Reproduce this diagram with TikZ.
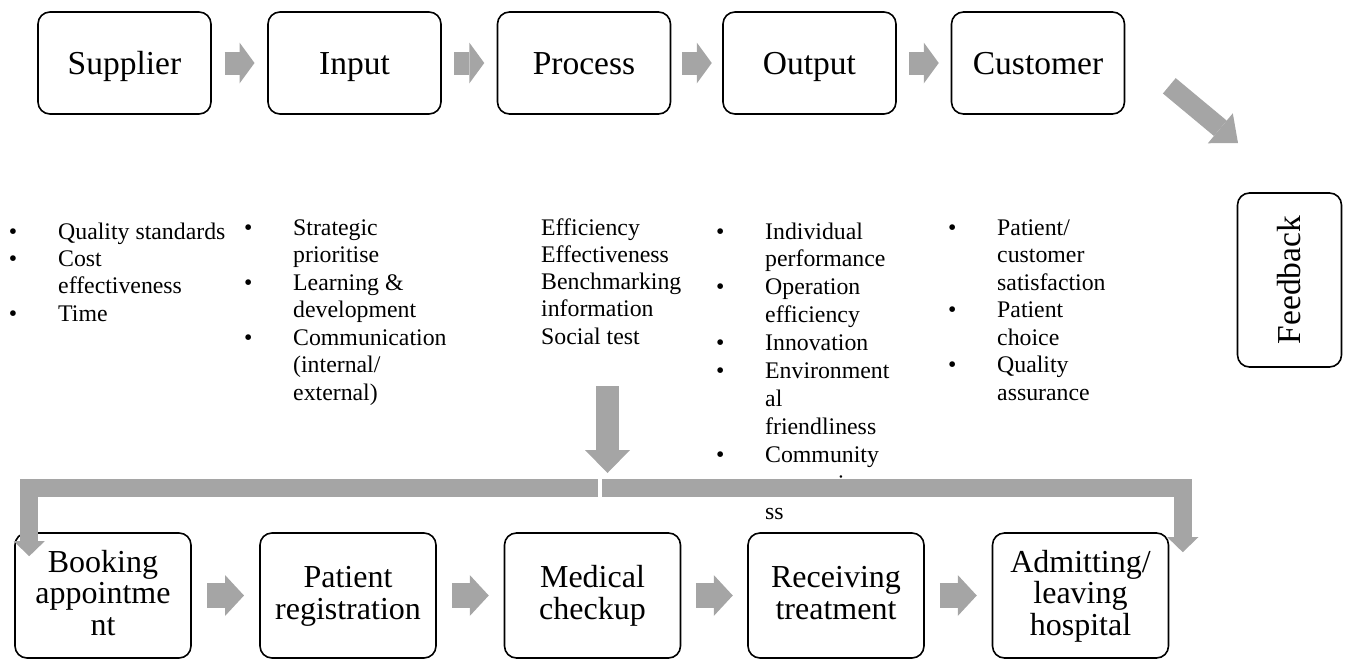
\documentclass[tikz,border=0pt]{standalone}
\usepackage{fontspec}
\setmainfont{Liberation Serif}
\usetikzlibrary{arrows.meta,calc}
\definecolor{agray}{RGB}{165,165,165}
\newcommand\bul{\hbox to 49.2pt{\textbullet\hfil}}
\newcommand\nob{\hbox to 49.2pt{\hfil}}
\newcommand\li[1]{\hbox{#1}}
\newcommand\blist[2]{\vtop{\lineskiplimit=-100pt\baselineskip=#1pt #2}}
\newcommand\btop{\rule{0pt}{24pt}}
\newcommand\bbot{\rule[-8pt]{0pt}{8pt}}
\tikzset{
  topbox/.style={draw, line width=1.6pt, rounded corners=12pt, minimum width=173pt,
    minimum height=102pt, inner sep=0pt, text height=22pt, text depth=0pt,
    font=\fontsize{33.5}{36}\selectfont},
  botbox/.style={draw, line width=1.6pt, rounded corners=12pt, minimum width=176pt,
    minimum height=125pt, inner sep=0pt, align=center,
    font=\fontsize{32}{31.5}\selectfont},
  listtext/.style={inner sep=0pt, anchor=base west, font=\fontsize{23.8}{27.5}\selectfont},
  toparrow/.style={draw=agray, line width=23pt, -{Triangle[width=41pt,length=15pt,line width=0pt]}},
  botarrow/.style={draw=agray, line width=25pt, -{Triangle[width=41pt,length=19pt,line width=0pt]}},
  diagarrow/.style={draw=agray, line width=20pt, -{Triangle[width=39pt,length=23pt,line width=0pt]}},
  downarrow/.style={draw=agray, line width=23pt, -{Triangle[width=45pt,length=23pt,line width=0pt]}},
  bentarrow/.style={draw=agray, line width=18pt, line join=miter, -{Triangle[width=31pt,length=15pt,line width=0pt]}},
}
\begin{document}
\begin{tikzpicture}[x=1pt, y=-1pt]
\useasboundingbox (0,0) rectangle (1354,659);
% top row
\node[topbox] (sup) at (124.5,63) {Supplier};
\node[topbox] (inp) at (354.5,63) {Input};
\node[topbox] (pro) at (584,63) {Process};
\node[topbox] (out) at (809.5,63) {Output};
\node[topbox] (cus) at (1038,63) {Customer};
\node[draw, line width=1.6pt, rounded corners=12pt, minimum width=174pt, minimum height=104pt,
  inner sep=0pt, rotate=90, text height=22pt, text depth=0pt,
  font=\fontsize{33.5}{36}\selectfont] (fb) at (1289.5,280) {Feedback};
\foreach \a/\b in {sup/inp, inp/pro, pro/out, out/cus}
  \draw[toparrow] ($(\a.east)!0.5!(\b.west)+(-15,0)$) -- ($(\a.east)!0.5!(\b.west)+(15,0)$);
\draw[diagarrow] ($(cus.south east)+(44,-29)$) -- ($(fb.center)+(-51.5,-137)$);
% lists
\node[listtext] (c1) at (8.8,239) {\blist{27.4}{\li{\bul Quality standards}\li{\bul Cost}\li{\nob effectiveness}\li{\bul Time}}};
\node[listtext] (c2) at (243.8,235) {\blist{27.5}{\li{\bul Strategic}\li{\nob prioritise}\li{\bul Learning \&}\li{\nob development}\li{\bul Communication}\li{\nob (internal/}\li{\nob external)}}};
\node[listtext] (c3) at (541,235) {\blist{27.3}{\li{Efficiency}\li{Effectiveness}\li{Benchmarking}\li{information}\li{Social test}}};
\node[listtext] (c4) at (715.8,239) {\blist{27.9}{\li{\bul Individual}\li{\nob performance}\li{\bul Operation}\li{\nob efficiency}\li{\bul Innovation}\li{\bul Environment}\li{\nob al}\li{\nob friendliness}\li{\bul Community}\kern1.5pt\li{\nob responsivene}\li{\nob ss}}};
\node[listtext] (c5) at (947.8,235) {\blist{27.5}{\li{\bul Patient/}\li{\nob customer}\li{\nob satisfaction}\li{\bul Patient}\li{\nob choice}\li{\bul Quality}\li{\nob assurance}}};
% bottom row
\node[botbox] (book) at (103,595.5) {\btop Booking\\appointme\\nt\bbot};
\node[botbox] (pat) at (348,595.5) {\btop Patient\\registration\bbot};
\node[botbox] (med) at (592.5,595.5) {\btop Medical\\checkup\bbot};
\node[botbox] (rec) at (836,595.5) {\btop Receiving\\treatment\bbot};
\node[botbox] (adm) at (1080.5,595.5) {\btop Admitting/\\leaving\\hospital\bbot};
\foreach \a/\b in {book/pat, pat/med, med/rec, rec/adm}
  \draw[botarrow] ($(\a.east)!0.5!(\b.west)+(-18.5,0)$) -- ($(\a.east)!0.5!(\b.west)+(18.5,0)$);
% down arrow and split bar
\coordinate (dtop) at (607.5,386);
\coordinate (dtip) at (607.5,473);
\coordinate (jl) at (598,488);
\coordinate (jr) at (602,488);
\draw[downarrow] (dtop) -- (dtip);
\draw[bentarrow] (jl) -| ($(book.north west)+(15,24)$);
\draw[bentarrow] (jr) -| ($(adm.north east)+(13.5,20)$);
\end{tikzpicture}
\end{document}
